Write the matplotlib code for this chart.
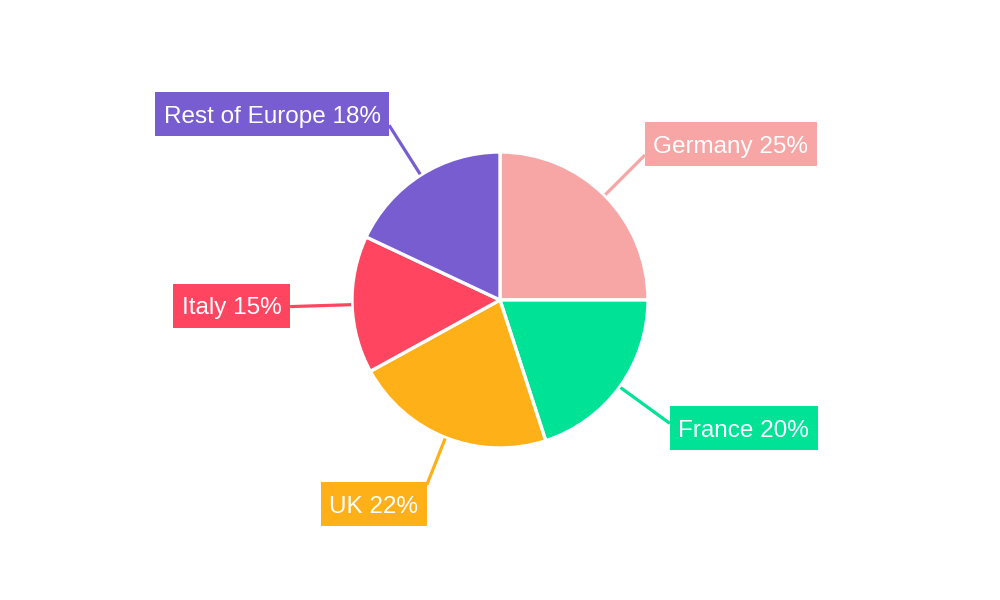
import numpy as np
import matplotlib
matplotlib.use("Agg")
import matplotlib.pyplot as plt
from matplotlib.patches import Rectangle

plt.rcParams['font.family'] = ['Liberation Sans', 'DejaVu Sans']

# ---- data ----
categories = ["Germany", "France", "UK", "Italy", "Rest of Europe"]
values = [25, 20, 22, 15, 18]
colors = ["#F8A5A5", "#00E396", "#FEB019", "#FF4560", "#775DD0"]

# ---- style / layout ----
W, H = 1000, 600
center = (500, 300)
radius = 148
r_start = 149
r_end = [205, 210, 199, 210, 207]      # leader line end radius (px)
box_dy = [-11, 5, 19, -1, -11]         # box centre offset below line end (px)
fs_px = 24.3
fs = fs_px * 72 / 100
pad_x = 8.5
box_h = 44
cap_h = 0.716 * fs_px

fig = plt.figure(figsize=(W / 100, H / 100), dpi=100)
ax = fig.add_axes([0, 0, 1, 1])
wedges, _ = ax.pie(values, colors=colors, startangle=90, counterclock=False,
                   center=center, radius=radius,
                   wedgeprops=dict(edgecolor="white", linewidth=2.4))
ax.set_xlim(0, W)
ax.set_ylim(0, H)
ax.set_aspect("auto")
ax.axis("off")

texts = []
for i, w in enumerate(wedges):
    mid = np.deg2rad((w.theta1 + w.theta2) / 2)
    c, s = np.cos(mid), np.sin(mid)
    x0, y0 = center[0] + r_start * c, center[1] + r_start * s
    x1, y1 = center[0] + r_end[i] * c, center[1] + r_end[i] * s
    ax.plot([x0, x1], [y0, y1], color=colors[i], lw=2.3, solid_capstyle="butt", zorder=1)
    right = c > 0
    tx = x1 + pad_x if right else x1 - pad_x
    yc = y1 - box_dy[i]
    t = ax.text(tx, yc - cap_h / 2, f"{categories[i]} {values[i]}%",
                ha="left" if right else "right", va="baseline",
                fontsize=fs, color="white", zorder=4)
    texts.append((t, x1, yc, right, colors[i]))

fig.canvas.draw()
renderer = fig.canvas.get_renderer()
inv = ax.transData.inverted()
for t, x1, yc, right, col in texts:
    bb = t.get_window_extent(renderer)
    (ax0, _), (ax1, _) = inv.transform([[bb.x0, bb.y0], [bb.x1, bb.y1]])
    wbox = (ax1 - ax0) + 2 * pad_x
    left = x1 if right else x1 - wbox
    ax.add_patch(Rectangle((left, yc - box_h / 2), wbox, box_h,
                           facecolor=col, edgecolor="none", zorder=3))

fig.savefig("out.png", dpi=100, facecolor="white")
